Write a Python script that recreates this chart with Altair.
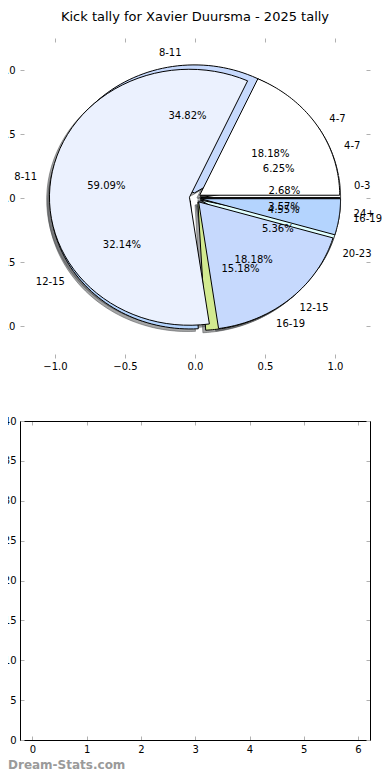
import altair as alt
import pandas as pd

FONT = "DejaVu Sans"

# ---------------- data ----------------
pie_b_labels = ["0-3", "4-7", "8-11", "12-15", "16-19", "20-23", "24+"]
pie_b_kicks = [3, 7, 39, 36, 17, 6, 4]
pie_a_labels = ["4-7", "8-11", "12-15", "16-19"]
pie_a_kicks = [4, 13, 4, 1]
wedge_colors = ["#ffffff", "#ebf1fe", "#c6d9fd", "#b4d4fe", "#d2ea90", "#e0ffff", "#f0f0f0"]
pie_ticks = [-1.0, -0.5, 0.0, 0.5, 1.0]
bar_x_ticks = [0, 1, 2, 3, 4, 5, 6]
bar_y_ticks = [0, 5, 10, 15, 20, 25, 30, 35, 40]
title_text = "Kick tally for Xavier Duursma - 2025 tally"
watermark = ["Dream-Stats.com"]

EXPLODE = 0.04
SHADOW = 0.02
N_ARC = 60

rows = []
for pie, labels, kicks in (("B", pie_b_labels, pie_b_kicks), ("A", pie_a_labels, pie_a_kicks)):
    for i, (lab, k) in enumerate(zip(labels, kicks)):
        rows.append({"pie": pie, "label": lab, "kicks": k, "idx": i,
                     "color": wedge_colors[i], "key": pie + lab})
wedges = pd.DataFrame(rows)
bar_frame = pd.DataFrame({"bx": bar_x_ticks, "by": [bar_y_ticks[0]] * len(bar_x_ticks)})

# ---------------- scales ----------------
W, H = 350, 702
TOP_H = 320
BOT_TOP = 383
TX = alt.Scale(domain=[-1.25, 1.25], range=[0, W], nice=False, zero=False)
TY = alt.Scale(domain=[-1.25, 1.25], range=[TOP_H, 0], nice=False, zero=False)
BX = alt.Scale(domain=[-0.23, 6.22], range=[0, W], nice=False, zero=False)
BY = alt.Scale(domain=[0, 40], range=[H, BOT_TOP], nice=False, zero=False)

TICK_COLOR = "#b0b0b0"


def tick_axis(orient, offset, values, labels=False, fmt=None, pad=0):
    kw = dict(orient=orient, offset=offset, values=values, grid=False, domain=False,
              ticks=True, tickSize=4, tickColor=TICK_COLOR, tickWidth=1,
              labels=labels, title=None)
    if labels:
        kw.update(format=fmt, labelPadding=pad, labelFont=FONT, labelFontSize=10,
                  labelColor="black", labelOverlap=False, labelFlush=False)
    return alt.Axis(**kw)


def frame_axis(orient, offset):
    return alt.Axis(orient=orient, offset=offset, grid=False, domain=True,
                    domainColor="black", domainWidth=1, ticks=False, labels=False,
                    title=None)


# ---------------- pie geometry via transforms ----------------
base = (
    alt.Chart(wedges)
    .transform_joinaggregate(total="sum(kicks)", groupby=["pie"])
    .transform_window(cum="sum(kicks)", sort=[alt.SortField("idx")],
                      groupby=["pie"], frame=[None, 0])
    .transform_calculate(a0="2*PI*(datum.cum - datum.kicks)/datum.total")
    .transform_calculate(a1="2*PI*datum.cum/datum.total")
    .transform_calculate(am="(datum.a0 + datum.a1)/2")
    .transform_calculate(ex=f"{EXPLODE}*cos(datum.am)")
    .transform_calculate(ey=f"{EXPLODE}*sin(datum.am)")
    .transform_calculate(pct="format(100*datum.kicks/datum.total, '.2f') + '%'")
)

poly = (
    base.transform_calculate(k=f"sequence(0, {N_ARC + 3})")
    .transform_flatten(["k"])
    .transform_calculate(t=f"clamp((datum.k - 1)/{N_ARC}, 0, 1)")
    .transform_calculate(tip=f"datum.k == 0 || datum.k == {N_ARC + 2}")
    .transform_calculate(ang="datum.a0 + datum.t*(datum.a1 - datum.a0)")
    .transform_calculate(px="datum.ex + (datum.tip ? 0 : cos(datum.ang))")
    .transform_calculate(py="datum.ey + (datum.tip ? 0 : sin(datum.ang))")
    .transform_calculate(sx=f"datum.px - {SHADOW}", sy=f"datum.py - {SHADOW}")
)

shadows = poly.mark_line(strokeWidth=1).encode(
    x=alt.X("sx:Q", scale=TX, axis=None),
    y=alt.Y("sy:Q", scale=TY, axis=None),
    detail="key:N",
    order="k:Q",
    fill=alt.value("#4a4b4d"),
    fillOpacity=alt.value(0.5),
    stroke=alt.value("#4a4b4d"),
    strokeOpacity=alt.value(0.5),
)


def wedge_layer(pie, xaxis, yaxis):
    return poly.transform_filter(f"datum.pie == '{pie}'").mark_line(
        strokeWidth=1, strokeJoin="miter"
    ).encode(
        x=alt.X("px:Q", scale=TX, axis=xaxis),
        y=alt.Y("py:Q", scale=TY, axis=yaxis),
        detail="key:N",
        order="k:Q",
        fill=alt.Fill("color:N", scale=None),
        stroke=alt.value("black"),
    )


pie_b = wedge_layer("B", tick_axis("top", -4, pie_ticks), tick_axis("right", -4, pie_ticks))
pie_a = wedge_layer(
    "A",
    tick_axis("bottom", -(H - TOP_H) - 4, pie_ticks, True, ".1f", 3),
    tick_axis("left", -4, pie_ticks, True, ".1f", 5),
)

texts = (
    base.transform_calculate(lx="datum.ex + 1.1*cos(datum.am)")
    .transform_calculate(ly="datum.ey + 1.1*sin(datum.am)")
    .transform_calculate(tx="datum.ex + 0.6*cos(datum.am)")
    .transform_calculate(ty="datum.ey + 0.6*sin(datum.am)")
)

txt_style = dict(baseline="middle", font=FONT, fontSize=10, color="black")
labels_right = texts.transform_filter("datum.lx > 0").mark_text(align="left", **txt_style).encode(
    x=alt.X("lx:Q", scale=TX, axis=None), y=alt.Y("ly:Q", scale=TY, axis=None), text="label:N")
labels_left = texts.transform_filter("datum.lx <= 0").mark_text(align="right", **txt_style).encode(
    x=alt.X("lx:Q", scale=TX, axis=None), y=alt.Y("ly:Q", scale=TY, axis=None), text="label:N")
pct_text = texts.mark_text(align="center", **txt_style).encode(
    x=alt.X("tx:Q", scale=TX, axis=None), y=alt.Y("ty:Q", scale=TY, axis=None), text="pct:N")

# ---------------- empty lower panel ----------------
bar_base = alt.Chart(bar_frame).mark_point(opacity=0)
b1 = bar_base.encode(
    x=alt.X("bx:Q", scale=BX, axis=tick_axis("bottom", -4, bar_x_ticks, True, "d", 4)),
    y=alt.Y("by:Q", scale=BY, axis=tick_axis("left", -4, bar_y_ticks, True, "d", 4)),
)
b2 = bar_base.encode(
    x=alt.X("bx:Q", scale=BX, axis=tick_axis("top", -BOT_TOP - 4, bar_x_ticks)),
    y=alt.Y("by:Q", scale=BY, axis=tick_axis("right", -4, bar_y_ticks)),
)
b3 = bar_base.encode(
    x=alt.X("bx:Q", scale=BX, axis=frame_axis("bottom", 0)),
    y=alt.Y("by:Q", scale=BY, axis=frame_axis("left", 0)),
)
b4 = bar_base.encode(
    x=alt.X("bx:Q", scale=BX, axis=frame_axis("top", -BOT_TOP)),
    y=alt.Y("by:Q", scale=BY, axis=frame_axis("right", 0)),
)

wm = alt.Chart(pd.DataFrame({"t": watermark})).mark_text(
    align="left", baseline="middle", font=FONT, fontSize=12, fontWeight="bold", color="#9a9a9a"
).encode(text="t:N", x=alt.value(-12), y=alt.value(727))

chart = (
    alt.layer(shadows, pie_b, pie_a, labels_right, labels_left, pct_text, b1, b2, b3, b4, wm)
    .resolve_scale(x="independent", y="independent")
    .resolve_axis(x="independent", y="independent")
    .properties(
        width=W,
        height=H,
        title=alt.TitleParams(text=title_text, font=FONT, fontSize=13, fontWeight="normal",
                              color="black", anchor="middle", frame="group",
                              baseline="alphabetic", offset=4),
        autosize=alt.AutoSizeParams(type="none"),
        padding={"left": 12, "top": 30, "right": 12, "bottom": 30},
    )
    .configure(font=FONT)
    .configure_view(stroke=None)
)

chart.save("out.html", embed_options={"renderer": "svg", "actions": False})
